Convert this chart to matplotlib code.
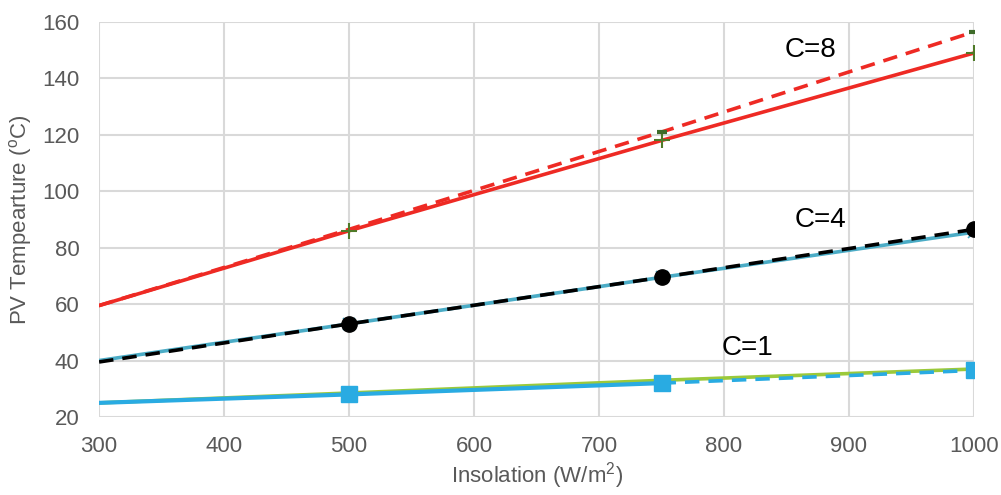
import matplotlib
matplotlib.use("Agg")
import matplotlib.pyplot as plt

plt.rcParams['font.family'] = ['Liberation Sans', 'DejaVu Sans']
plt.rcParams['mathtext.fontset'] = 'custom'
plt.rcParams['mathtext.rm'] = 'Liberation Sans'
plt.rcParams['mathtext.it'] = 'Liberation Sans'
plt.rcParams['mathtext.default'] = 'regular'

insolation = [300, 500, 750, 1000]
c8_solid = [59.5, 86.0, 118.0, 149.0]
c8_dashed = [59.5, 86.5, 121.0, 156.5]
c4_solid = [40.0, 53.0, 69.5, 85.5]
c4_dashed = [39.5, 53.0, 69.5, 86.5]
c1_green = [25.0, 28.5, 33.0, 37.0]
c1_blue = [25.0, 28.0, 32.0, 36.5]

xticks = [300, 400, 500, 600, 700, 800, 900, 1000]
yticks = [20, 40, 60, 80, 100, 120, 140, 160]

fig = plt.figure(figsize=(10.01, 4.95), dpi=100)
ax = fig.add_axes([0.099, 0.1576, 0.874, 0.798])

red = '#EE2A24'
lw = 2.6

# C=8
ax.plot(insolation, c8_solid, color=red, lw=lw, zorder=3)
ax.plot(insolation[1:], c8_solid[1:], ls='none', marker='+', ms=11, mew=1.5, color='#4F7A28', zorder=5)
ax.plot(insolation, c8_dashed, color=red, lw=lw, ls=(0, (4, 2.5)), zorder=4)
ax.plot(insolation[2:], c8_dashed[2:], ls='none', marker='_', ms=7, mew=3, color='#3E6B2A', zorder=5)

# C=4
ax.plot(insolation, c4_solid, color='#4BACC6', lw=lw, marker='x', ms=8, mew=1.2,
        markevery=[1, 2, 3], zorder=3)
ax.plot(insolation, c4_dashed, color='black', lw=lw, ls=(0, (4, 2.5)), zorder=4)
ax.plot(insolation[1:], c4_dashed[1:], ls='none', marker='o', ms=11, color='black', zorder=5)

# C=1
ax.plot(insolation, c1_green, color='#9BC93A', lw=lw, zorder=3)
ax.plot(insolation[:3], c1_blue[:3], color='#29ABE2', lw=lw + 0.4, zorder=4)
ax.plot(insolation[2:], c1_blue[2:], color='#29ABE2', lw=lw, ls=(0, (4, 2.5)), zorder=4)
ax.plot(insolation[1:], c1_blue[1:], ls='none', marker='s', ms=11, color='#29ABE2', zorder=5)

ax.text(869, 150, 'C=8', fontsize=20, ha='center', va='center', color='black')
ax.text(877, 89.8, 'C=4', fontsize=20, ha='center', va='center', color='black')
ax.text(819, 44.5, 'C=1', fontsize=20, ha='center', va='center', color='black')

ax.set_xlim(300, 1000)
ax.set_ylim(20, 160)
ax.set_xticks(xticks)
ax.set_yticks(yticks)
ax.grid(True, color='#D9D9D9', lw=1.5, zorder=0)
ax.set_axisbelow(True)
for s in ax.spines.values():
    s.set_visible(False)
ax.tick_params(length=0, labelcolor='#595959', labelsize=16)
ax.tick_params(axis='x', pad=14)
ax.tick_params(axis='y', pad=14)
ax.set_xlabel('Insolation (W/m$^{2}$)', fontsize=16, color='#595959', labelpad=2)
ax.set_ylabel('PV Tempearture ($^{o}$C)', fontsize=16, color='#595959', labelpad=6)

fig.savefig('out.png', dpi=100)
